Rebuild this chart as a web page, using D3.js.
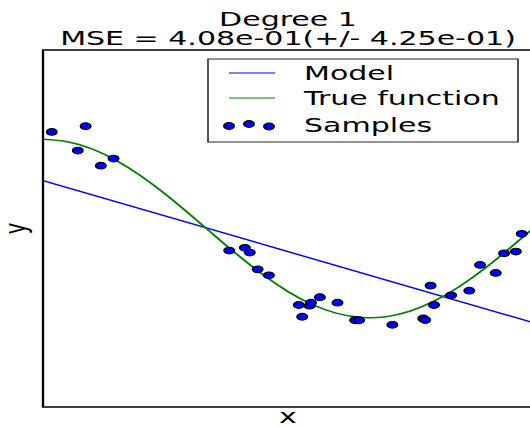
<!DOCTYPE html>
<html>
<head>
<meta charset="UTF-8" />
<title>Degree 1</title>
<script src="https://cdn.jsdelivr.net/npm/d3@7"></script>
<style>
  body { margin: 0; background: #fff; }
  text { font-family: "DejaVu Sans", sans-serif; fill: #000; }
</style>
</head>
<body>
<div id="chart"></div>
<script>
// samples
var sampleX = [0.018, 0.087, 0.071, 0.118, 0.144, 0.380, 0.412, 0.422, 0.438, 0.461,
               0.522, 0.529, 0.544, 0.547, 0.565, 0.601, 0.637, 0.645, 0.713, 0.776,
               0.780, 0.791, 0.798, 0.833, 0.870, 0.892, 0.924, 0.941, 0.965, 0.977];
var sampleY = [1.082, 1.146, 0.873, 0.704, 0.783, -0.247, -0.217, -0.270, -0.457, -0.525,
               -0.857, -0.989, -0.865, -0.831, -0.770, -0.831, -1.028, -1.028, -1.079, -1.008,
               -1.026, -0.640, -0.857, -0.749, -0.697, -0.408, -0.498, -0.278, -0.258, -0.060];

// true function, tabulated
var trueX = [0, 0.05, 0.1, 0.15, 0.2, 0.25, 0.3, 0.35, 0.4, 0.45, 0.5,
             0.55, 0.6, 0.65, 0.7, 0.75, 0.8, 0.85, 0.9, 0.95, 1];
var trueY = [1, 0.972, 0.891, 0.760, 0.588, 0.383, 0.156, -0.078, -0.309, -0.522, -0.707,
             -0.853, -0.951, -0.997, -0.988, -0.924, -0.809, -0.649, -0.454, -0.233, 0];

// degree 1 model
var modelX = [0, 1];
var modelY = [0.536, -1.054];

var legendLabels = ['Model', 'True function', 'Samples'];
var titleLines = ['Degree 1', 'MSE = 4.08e-01(+/- 4.25e-01)'];

var w = 530, h = 427;
var sx = 1.54; // picture is stretched sideways
var axL = 43, axR = 533, axT = 50, axB = 407;

var svg = d3.select('#chart').append('svg')
  .attr('width', w)
  .attr('height', h);

var g = svg.append('g').attr('transform', 'scale(' + sx + ',1)');

var x = d3.scaleLinear().domain([0, 1]).range([axL / sx, axR / sx]);
var y = d3.scaleLinear().domain([-2, 2]).range([axB, axT]);

var line = d3.line()
  .x(function(d) { return x(d[0]); })
  .y(function(d) { return y(d[1]); });

// model
g.append('path')
  .datum(d3.zip(modelX, modelY))
  .attr('d', line)
  .attr('fill', 'none')
  .attr('stroke', '#0000ff')
  .attr('stroke-width', 1.4);

// true function
g.append('path')
  .datum(d3.zip(trueX, trueY))
  .attr('d', d3.line().x(line.x()).y(line.y()).curve(d3.curveNatural))
  .attr('fill', 'none')
  .attr('stroke', '#008000')
  .attr('stroke-width', 1.5);

// samples
g.selectAll('circle.pt')
  .data(d3.zip(sampleX, sampleY))
  .enter()
  .append('circle')
  .attr('class', 'pt')
  .attr('cx', function(d) { return x(d[0]); })
  .attr('cy', function(d) { return y(d[1]); })
  .attr('r', 3.4)
  .attr('fill', '#0000ff')
  .attr('stroke', '#000')
  .attr('stroke-width', 1);

// spines
g.append('rect')
  .attr('x', axL / sx)
  .attr('y', axT)
  .attr('width', (axR - axL) / sx)
  .attr('height', axB - axT)
  .attr('fill', 'none')
  .attr('stroke', '#000')
  .attr('stroke-width', 1.5);

// title
g.selectAll('text.title')
  .data(titleLines)
  .enter()
  .append('text')
  .attr('class', 'title')
  .attr('x', (axL + axR) / 2 / sx)
  .attr('y', function(d, i) { return 26 + i * 19; })
  .attr('text-anchor', 'middle')
  .style('font-size', '19.5px')
  .text(function(d) { return d; });

// axis labels
g.append('text')
  .attr('x', 288 / sx)
  .attr('y', 423)
  .attr('text-anchor', 'middle')
  .style('font-size', '19.5px')
  .text('x');

g.append('text')
  .attr('transform', 'translate(' + (26 / sx) + ',' + ((axT + axB) / 2) + ') rotate(-90)')
  .attr('text-anchor', 'middle')
  .style('font-size', '19.5px')
  .text('y');

// legend
var lg = g.append('g');
lg.append('rect')
  .attr('x', 208 / sx)
  .attr('y', 59)
  .attr('width', (518 - 208) / sx)
  .attr('height', 142 - 59)
  .attr('fill', '#fff')
  .attr('stroke', '#222')
  .attr('stroke-width', 1);

var rowY = [73, 98, 125];
var rowColor = ['#0000ff', '#008000'];
for (var i = 0; i < 2; i++) {
  lg.append('line')
    .attr('x1', 229 / sx).attr('x2', 275 / sx)
    .attr('y1', rowY[i]).attr('y2', rowY[i])
    .attr('stroke', rowColor[i])
    .attr('stroke-width', 1.2);
}
var dotX = [229, 249, 269], dotDy = [1, -1, 1.5];
for (var j = 0; j < 3; j++) {
  lg.append('circle')
    .attr('cx', dotX[j] / sx)
    .attr('cy', rowY[2] + dotDy[j])
    .attr('r', 3.4)
    .attr('fill', '#0000ff')
    .attr('stroke', '#000')
    .attr('stroke-width', 1);
}
lg.selectAll('text.lab')
  .data(legendLabels)
  .enter()
  .append('text')
  .attr('class', 'lab')
  .attr('x', 304 / sx)
  .attr('y', function(d, i) { return rowY[i] + 7.5; })
  .style('font-size', '19.5px')
  .text(function(d) { return d; });
</script>
</body>
</html>
